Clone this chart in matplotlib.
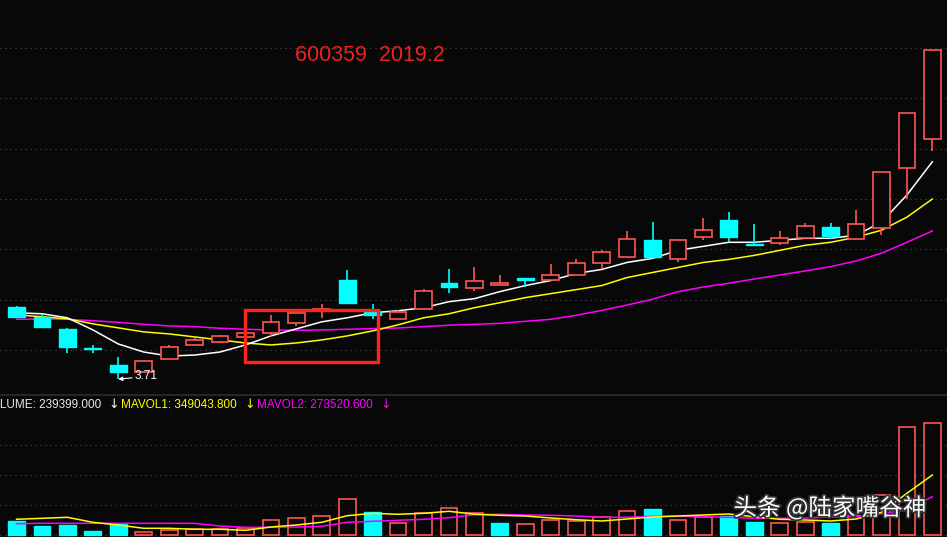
import matplotlib.pyplot as plt
import matplotlib.patheffects as pe
from matplotlib.patches import Rectangle
import numpy as np

# daily candles, 600359, Feb 2019
opens = [4.43, 4.33, 4.21, 4.02, 3.85, 3.78, 3.91, 4.05, 4.08, 4.13, 4.17, 4.27, 4.39,
         4.70, 4.39, 4.31, 4.41, 4.67, 4.62, 4.65, 4.72, 4.70, 4.75, 4.86, 4.92, 5.09,
         4.90, 5.12, 5.29, 5.05, 5.06, 5.11, 5.22, 5.10, 5.21, 5.81, 6.10]
highs = [4.44, 4.36, 4.22, 4.05, 3.93, 3.90, 4.05, 4.12, 4.15, 4.17, 4.35, 4.37, 4.46,
         4.79, 4.46, 4.40, 4.61, 4.80, 4.82, 4.75, 4.72, 4.85, 4.90, 4.99, 5.18, 5.27,
         5.10, 5.31, 5.37, 5.25, 5.18, 5.26, 5.26, 5.39, 5.77, 6.35, 6.98]
lows = [4.32, 4.22, 3.97, 3.97, 3.71, 3.78, 3.91, 4.05, 4.07, 4.13, 4.13, 4.24, 4.32,
        4.47, 4.31, 4.31, 4.40, 4.57, 4.59, 4.65, 4.63, 4.70, 4.75, 4.80, 4.92, 4.92,
        4.87, 5.09, 5.07, 5.03, 5.04, 5.11, 5.10, 5.10, 5.14, 5.50, 5.98]
closes = [4.33, 4.23, 4.03, 4.01, 3.78, 3.89, 4.03, 4.10, 4.14, 4.17, 4.28, 4.37, 4.41,
          4.47, 4.35, 4.38, 4.59, 4.63, 4.69, 4.67, 4.70, 4.75, 4.86, 4.97, 5.10, 4.92,
          5.09, 5.19, 5.12, 5.04, 5.11, 5.23, 5.13, 5.25, 5.77, 6.35, 6.98]

ma5 = [4.37, 4.36, 4.32, 4.20, 4.06, 3.98, 3.94, 3.95, 3.98, 4.05, 4.14, 4.21, 4.28,
       4.32, 4.37, 4.39, 4.42, 4.48, 4.51, 4.58, 4.64, 4.69, 4.76, 4.80, 4.87, 4.91,
       4.99, 5.03, 5.07, 5.07, 5.09, 5.11, 5.11, 5.14, 5.27, 5.54, 5.87]
ma10 = [4.35, 4.33, 4.31, 4.26, 4.22, 4.18, 4.16, 4.13, 4.10, 4.07, 4.05, 4.07, 4.10,
        4.14, 4.19, 4.25, 4.32, 4.36, 4.42, 4.47, 4.52, 4.56, 4.60, 4.64, 4.72, 4.77,
        4.82, 4.87, 4.90, 4.94, 4.99, 5.04, 5.07, 5.12, 5.19, 5.32, 5.50]
ma30 = [4.305, 4.308, 4.305, 4.291, 4.275, 4.255, 4.239, 4.232, 4.216, 4.206, 4.199,
        4.196, 4.199, 4.206, 4.212, 4.219, 4.232, 4.246, 4.255, 4.265, 4.285, 4.305,
        4.345, 4.393, 4.447, 4.504, 4.579, 4.626, 4.663, 4.705, 4.745, 4.785, 4.828,
        4.884, 4.961, 5.070, 5.182]

volume = [72000, 47000, 53000, 22000, 58000, 15000, 25000, 30000, 30000, 35000, 75000,
          85000, 95000, 180000, 117000, 62000, 113000, 135000, 110000, 62000, 55000,
          75000, 70000, 90000, 120000, 132000, 75000, 93000, 98000, 67000, 60000, 67000,
          63000, 98000, 202000, 540000, 560000]
mavol1 = [80000, 85000, 90000, 65000, 51500, 35000, 35000, 30000, 30000, 25000, 41500,
          51500, 65000, 98000, 110000, 105000, 110000, 120000, 105500, 100000, 96500,
          86500, 78000, 71500, 81500, 91500, 96500, 101500, 106500, 93000, 80000, 76500,
          71500, 81500, 115000, 210000, 301500]
mavol2 = [58000, 60000, 60000, 60000, 60000, 60000, 60000, 60000, 46500, 40000, 40000,
          41500, 45000, 65000, 70000, 75000, 80000, 88000, 103000, 105000, 101500, 100000,
          96500, 90000, 90000, 95000, 95000, 93000, 90000, 85000, 85000, 86500, 91500,
          93000, 108000, 126500, 193000]

BG = '#080808'
UP = '#ff5656'
DOWN = '#00ffff'
GRID = '#4e4e4e'

x = np.arange(len(closes))
w = 0.66

fig = plt.figure(figsize=(9.47, 5.37), dpi=100, facecolor=BG)
ax = fig.add_axes([0, 142 / 537, 1, 395 / 537])
axv = fig.add_axes([0, 0, 1, 122 / 537])
for a in (ax, axv):
    a.set_facecolor(BG)
    a.set_xlim(-0.6486, 36.576)
    for s in a.spines.values():
        s.set_visible(False)
    a.set_xticks([])
    a.tick_params(left=False, labelleft=False)

# price panel
ax.set_ylim(3.553, 7.477)
ax.set_yticks([4.0, 4.5, 5.0, 5.5, 6.0, 6.5, 7.0])
ax.grid(True, axis='y', color=GRID, linestyle=(0, (1, 3.5)), linewidth=0.8)

for i in x:
    o, h, l, c = opens[i], highs[i], lows[i], closes[i]
    top, bot = max(o, c), min(o, c)
    if c >= o:
        ax.add_patch(Rectangle((i - w / 2, bot), w, max(top - bot, 0.004),
                               facecolor=BG, edgecolor=UP, linewidth=1.2, zorder=3))
        ax.vlines(i, top, h, color=UP, linewidth=1.2, zorder=3)
        ax.vlines(i, l, bot, color=UP, linewidth=1.2, zorder=3)
    else:
        ax.vlines(i, l, h, color=DOWN, linewidth=1.2, zorder=3)
        ax.add_patch(Rectangle((i - w / 2, bot), w, max(top - bot, 0.004),
                               facecolor=DOWN, edgecolor=DOWN, linewidth=1.0, zorder=3))

ax.plot(x, ma30, color='#ff00ff', linewidth=1.1, zorder=2)
ax.plot(x, ma10, color='#ffff00', linewidth=1.1, zorder=2)
ax.plot(x, ma5, color='white', linewidth=1.1, zorder=2)

low_i = int(np.argmin(lows))
ax.annotate(f'{lows[low_i]:.2f}', xy=(low_i, lows[low_i]), xytext=(12, 2),
            textcoords='offset points', color='white', fontsize=8.5,
            family=['Liberation Sans', 'DejaVu Sans'], va='center',
            arrowprops=dict(arrowstyle='-|>', color='white', lw=0.8,
                            mutation_scale=6, shrinkA=0, shrinkB=0))

# highlighted box
ax.add_patch(Rectangle((8.98, 3.878), 5.23, 0.519, facecolor='none',
                       edgecolor='#ff2418', linewidth=2.4, zorder=5))

ax.text(0.391, 0.859, '600359  2019.2', transform=ax.transAxes, color='#f02020',
        fontsize=15.5, family=['Liberation Sans', 'DejaVu Sans'], ha='center', va='center')

# volume panel
axv.set_ylim(-8500, 601500)
axv.set_yticks([0, 150000, 300000, 450000])
axv.grid(True, axis='y', color=GRID, linestyle=(0, (1, 3.5)), linewidth=0.8)
for i in x:
    up = i == 0 and closes[i] >= opens[i] or i > 0 and closes[i] >= closes[i - 1]
    if up:
        axv.add_patch(Rectangle((i - w / 2, 0), w, volume[i], facecolor=BG,
                                edgecolor=UP, linewidth=1.2, zorder=3))
    else:
        axv.add_patch(Rectangle((i - w / 2, 0), w, volume[i], facecolor=DOWN,
                                edgecolor=DOWN, linewidth=1.0, zorder=3))
axv.plot(x, mavol2, color='#ff00ff', linewidth=1.1, zorder=4)
axv.plot(x, mavol1, color='#ffff00', linewidth=1.1, zorder=4)

# separator and legend row
fig.add_artist(plt.Line2D([0, 1], [1 - 395 / 537, 1 - 395 / 537], color='#2e2e2e',
                          linewidth=1.2, transform=fig.transFigure))
fy = 1 - 405 / 537
lf = dict(fontsize=8.5, family=['Liberation Sans', 'DejaVu Sans'], va='center',
          transform=fig.transFigure)
af = dict(fontsize=9, family=['DejaVu Sans'], va='center', transform=fig.transFigure)
fig.text(-17 / 947, fy, 'VOLUME: 239399.000', color='#e8e8e8', **lf)
fig.text(108 / 947, fy, '↓', color='white', **af)
fig.text(121 / 947, fy, 'MAVOL1: 349043.800', color='#ffff00', **lf)
fig.text(244 / 947, fy, '↓', color='#ffff00', **af)
fig.text(257 / 947, fy, 'MAVOL2: 273520.600', color='#ff00ff', **lf)
fig.text(380 / 947, fy, '↓', color='#ff00ff', **af)

# watermark
fig.text(830 / 947, 1 - 508 / 537, '头条 @陆家嘴谷神', color='white', fontsize=17,
         family=['Noto Sans CJK SC', 'DejaVu Sans'], ha='center', va='center',
         path_effects=[pe.withStroke(linewidth=2.5, foreground='#333333')])

fig.savefig('out.png', dpi=100, facecolor=BG)
